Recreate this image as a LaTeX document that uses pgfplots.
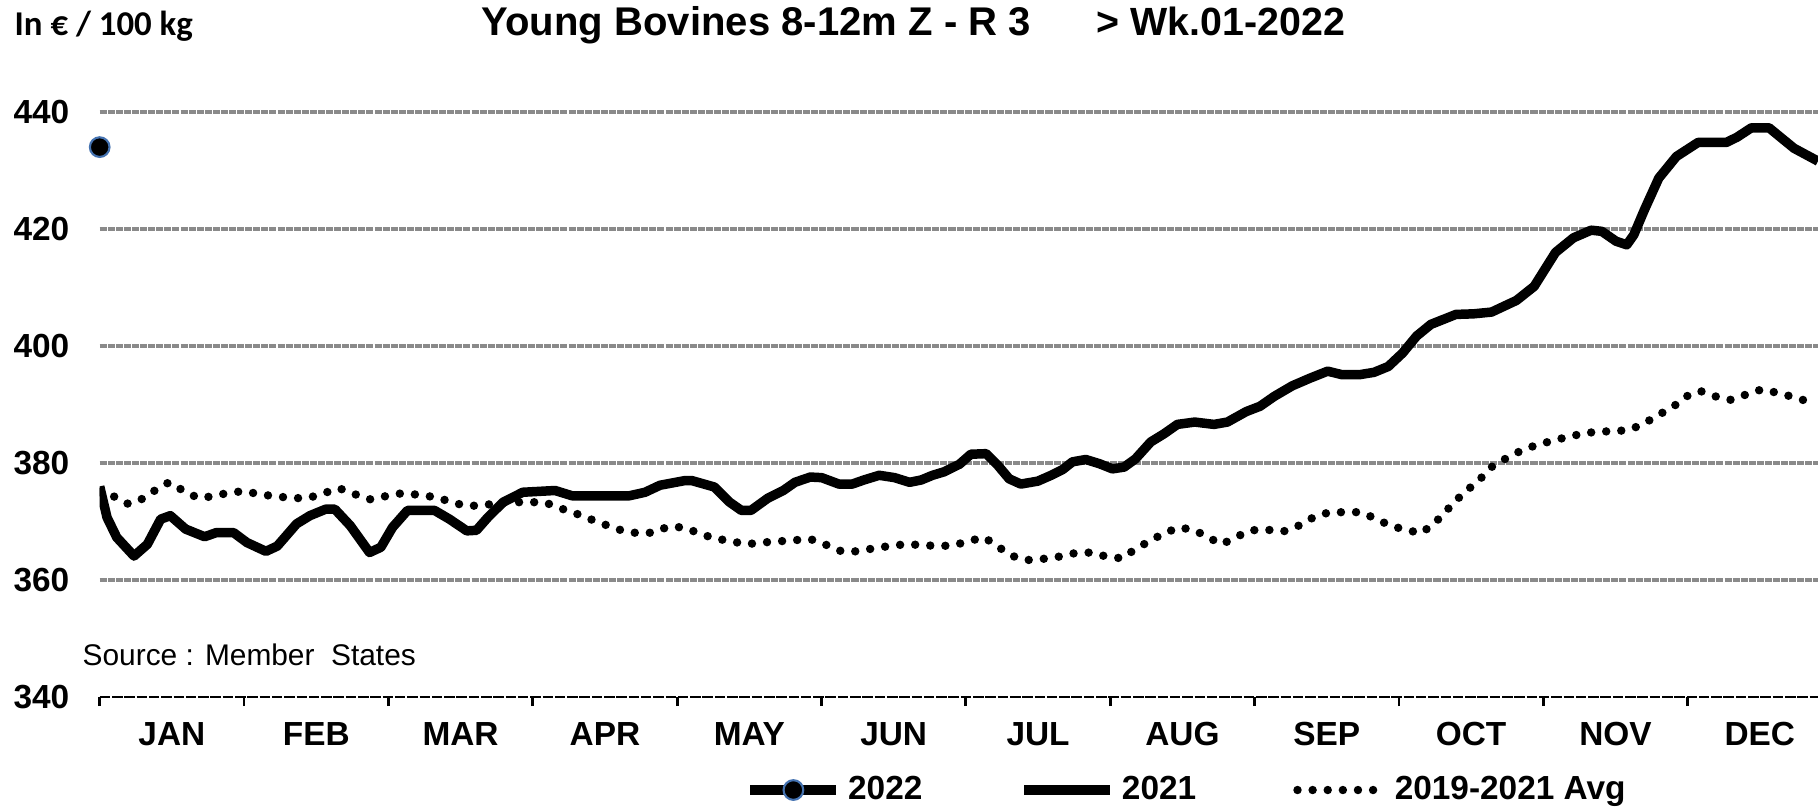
\documentclass[border=0pt]{standalone}
\usepackage{fontspec}
\setmainfont{Liberation Sans}
\newfontfamily\calib{Carlito}
\usepackage{pgfplots}
\pgfplotsset{compat=1.18}
\definecolor{gridgray}{RGB}{138,138,138}
\definecolor{markblue}{RGB}{68,114,176}

\begin{document}
\begin{tikzpicture}
\path[use as bounding box] (0,0) rectangle (18.18,8.07);
\begin{axis}[
  at={(0.997cm,1.10cm)}, anchor=south west,
  scale only axis, width=17.183cm, height=5.85cm,
  xmin=1, xmax=52.58, ymin=340, ymax=440,
  axis x line*=bottom, axis y line*=left,
  y axis line style={draw=none},
  x axis line style={black, line width=0.75pt, dash pattern=on 3pt off 0.5pt},
  ytick={360,380,...,440},
  extra y ticks={340}, extra y tick style={grid=none},
  ymajorgrids,
  grid style={gridgray, line width=1.1pt, dash pattern=on 2pt off 0.3pt},
  ytick style={draw=none},
  tick align=outside,
  major tick length=0cm, minor tick length=0.09cm,
  xtick={3.167,7.5,11.833,16.167,20.5,24.833,29.167,33.5,37.833,42.167,46.5,50.833},
  xticklabels={JAN,FEB,MAR,APR,MAY,JUN,JUL,AUG,SEP,OCT,NOV,DEC},
  minor xtick={1,5.333,9.667,14,18.333,22.667,27,31.333,35.667,40,44.333,48.667},
  minor x tick style={black, line width=0.8pt},
  major x tick style={draw=none},
  /pgf/number format/assume math mode=true,
  yticklabel style={font=\fontsize{9.5}{11}\selectfont\bfseries, xshift=-0.18cm},
  xticklabel style={font=\fontsize{9.5}{11}\selectfont\bfseries, yshift=-0.13cm},
  legend style={at={(0.634,-0.159)}, anchor=center, draw=none, fill=none,
    font=\fontsize{9.5}{11}\selectfont\bfseries,
    /tikz/every even column/.append style={column sep=0.9cm}},
  legend columns=3,
  legend image code/.code={\draw[mark repeat=2,mark phase=2,#1]
    plot coordinates {(0cm,0cm)(0.43cm,0cm)(0.86cm,0cm)};},
]
% 2022: first week only
\addplot[black, line width=2.7pt, mark=*, mark size=2.8pt,
  mark options={fill=black, draw=markblue, line width=0.6pt, solid}]
  coordinates {(1,434)};
\addlegendentry{2022}

% 2021
\addplot[black, line width=2.7pt, line join=round] coordinates {
(1,376)(1.22,370.7)(1.51,367.3)(2.03,364.1)(2.43,366.1)(2.83,370.4)(3.12,371)
(3.58,368.7)(4.15,367.4)(4.5,368.1)(5.02,368.1)(5.42,366.4)(5.99,364.9)(6.33,365.8)
(6.91,369.6)(7.31,371)(7.78,372.1)(8.06,372.1)(8.52,369.3)(9.1,364.7)(9.44,365.6)
(9.79,369)(10.24,371.9)(11.05,371.9)(11.5,370.4)(12.02,368.4)(12.31,368.5)
(12.65,370.7)(13.11,373.3)(13.7,375)(14.67,375.3)(15.18,374.4)(16.9,374.4)
(17.37,375)(17.82,376.2)(18.57,377)(18.77,377)(19.45,375.9)(19.91,373.3)
(20.26,371.9)(20.55,371.9)(21.06,374)(21.52,375.3)(21.87,376.7)(22.33,377.6)
(22.67,377.5)(23.19,376.4)(23.59,376.4)(23.94,377.1)(24.4,377.9)(24.86,377.5)
(25.31,376.7)(25.66,377.1)(26,377.9)(26.35,378.5)(26.81,379.8)(27.15,381.5)
(27.61,381.6)(27.96,379.6)(28.3,377.3)(28.65,376.4)(29.16,376.9)(29.56,377.9)
(29.91,378.9)(30.2,380.2)(30.6,380.6)(31,379.9)(31.4,379)(31.75,379.3)(32.09,380.7)
(32.55,383.6)(32.95,385)(33.35,386.6)(33.87,387)(34.45,386.6)(34.85,387)
(35.42,388.8)(35.83,389.7)(36.26,391.4)(36.8,393.2)(37.33,394.5)(37.86,395.7)
(38.29,395.1)(38.82,395.1)(39.25,395.5)(39.68,396.5)(40.11,398.8)(40.53,401.7)
(40.96,403.7)(41.71,405.4)(42.24,405.5)(42.78,405.8)(43.53,407.8)(44.06,410.2)
(44.7,416)(45.24,418.5)(45.77,419.8)(46.09,419.6)(46.52,417.9)(46.84,417.3)
(47.05,419)(47.37,423.3)(47.8,428.7)(48.33,432.4)(48.98,434.8)(49.83,434.8)
(50.15,435.7)(50.58,437.3)(51.11,437.3)(51.43,435.8)(51.86,433.8)(52.58,431.6)};
\addlegendentry{2021}

% 2019-2021 average
\addplot[black, line width=2.4pt, line cap=round, dash pattern=on 0pt off 4.3pt]
  coordinates {
(1,375)(1.42,374.3)(1.86,373)(2.29,373.9)(2.68,375.4)(3.08,376.7)(3.5,375.3)
(3.96,374)(4.38,374.3)(4.86,374.9)(5.33,375.2)(5.84,374.6)(6.31,374.3)(6.77,374)
(7.25,374)(7.71,374.8)(8.18,375.7)(8.64,374.7)(9.12,373.8)(9.56,374.3)(10.04,374.8)
(10.53,374.6)(11.02,374.2)(11.48,373.5)(11.95,372.7)(12.43,372.7)(12.89,373.1)
(13.4,373.3)(13.9,373.3)(14.35,373.3)(14.81,372.3)(15.28,371.4)(15.73,370.4)
(16.2,369.4)(16.66,368.5)(17.14,368)(17.6,368.1)(18.06,369.1)(18.52,369)(18.99,368)
(19.45,367.1)(19.91,366.7)(20.39,366.1)(20.86,366.4)(21.35,366.6)(21.84,366.8)
(22.33,367)(22.81,366)(23.27,364.9)(23.73,364.9)(24.22,365.4)(24.7,365.8)
(25.17,366.1)(25.66,366)(26.14,365.8)(26.61,365.9)(27.12,366.7)(27.55,367.3)
(27.96,365.7)(28.4,364.1)(28.82,363.4)(29.3,363.6)(29.8,364)(30.28,364.6)
(30.75,364.7)(31.23,364)(31.69,363.7)(32.09,365.3)(32.53,366.7)(32.95,368)
(33.41,369)(33.87,368.5)(34.27,367.3)(34.68,366.1)(35.13,367.4)(35.56,368.5)
(36.03,368.6)(36.53,368.3)(36.96,369.2)(37.4,370.6)(37.86,371.5)(38.32,371.6)
(38.82,371.6)(39.27,370.6)(39.73,369.3)(40.19,368.6)(40.66,368)(41.05,369.6)
(41.37,371.5)(41.71,373.6)(42.08,375.5)(42.46,377.4)(42.8,379.4)(43.19,380.7)
(43.63,382)(44.09,383)(44.54,383.7)(45.02,384.4)(45.5,385)(45.98,385.4)
(46.46,385.4)(46.94,385.7)(47.37,386.8)(47.82,388.3)(48.25,389.7)(48.63,391.4)
(49.05,392.3)(49.49,391.4)(49.96,390.8)(50.42,391.7)(50.9,392.6)(51.35,392)
(51.83,391.3)(52.29,390.5)};
\addlegendentry{2019-2021 Avg}
\end{axis}

\node[anchor=base west, inner sep=0, font=\calib\fontsize{9.9}{11}\selectfont\bfseries]
  at (0.14,7.72) {In € / 100 kg};
\node[anchor=base west, inner sep=0, font=\fontsize{11.4}{13}\selectfont\bfseries]
  at (4.81,7.72) {Young Bovines 8-12m Z - R 3};
\node[anchor=base west, inner sep=0, font=\fontsize{11.2}{13}\selectfont\bfseries]
  at (10.96,7.72) {> Wk.01-2022};
\node[anchor=base west, inner sep=0, font=\fontsize{8.5}{10}\selectfont]
  at (0.82,1.42) {Source : Member\ \ States};
\end{tikzpicture}
\end{document}
